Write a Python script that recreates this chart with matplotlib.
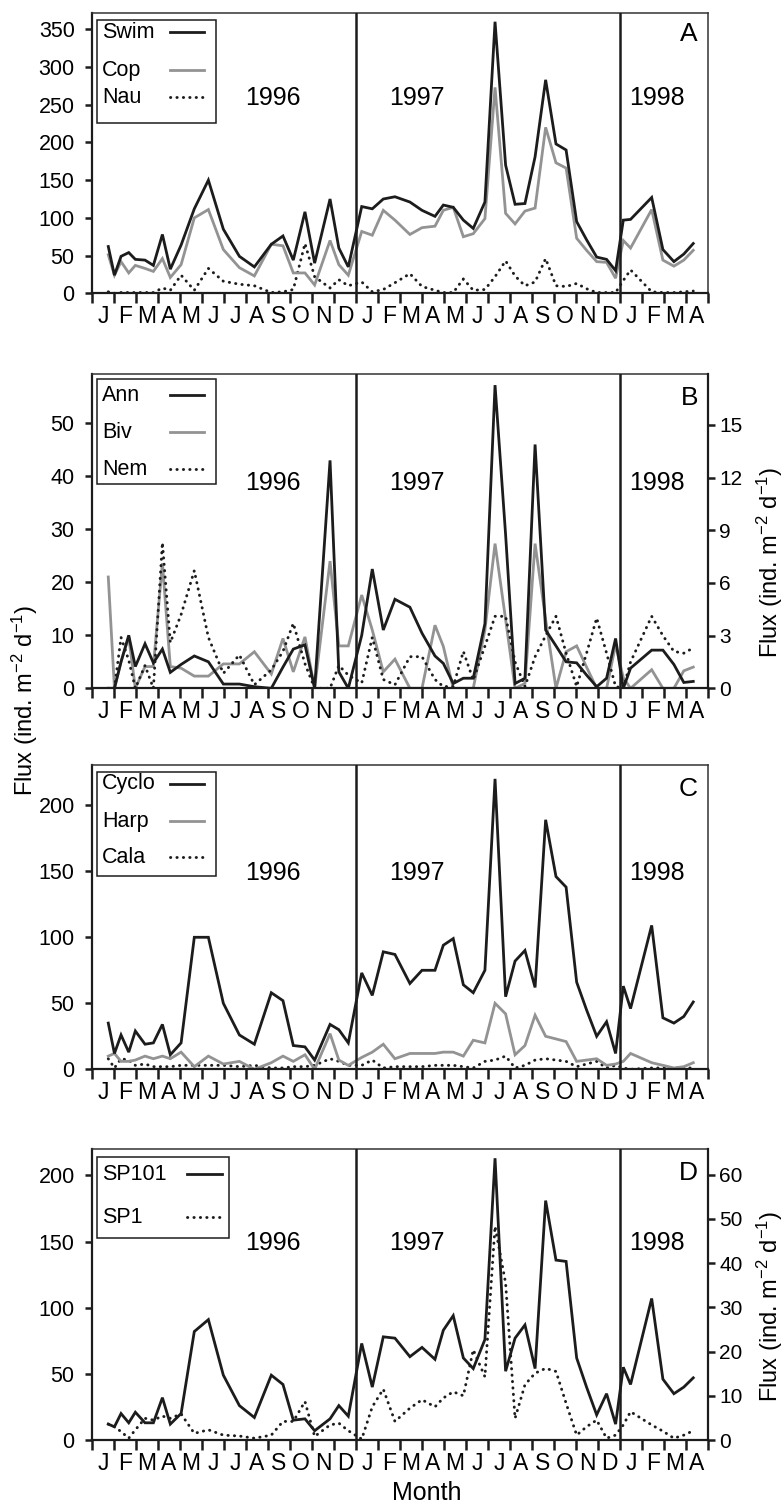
import matplotlib
matplotlib.use("Agg")
import matplotlib.pyplot as plt
from matplotlib.patches import Rectangle

plt.rcParams["font.family"] = ["Liberation Sans", "DejaVu Sans"]
plt.rcParams["mathtext.fontset"] = "custom"
plt.rcParams["mathtext.rm"] = "Liberation Sans"
plt.rcParams["mathtext.default"] = "regular"

# sampling dates, months since 1 Jan 1996
t = [0.74, 1.02, 1.32, 1.67, 1.97, 2.41, 2.79, 3.20, 3.56, 4.05,
     4.65, 5.29, 5.97, 6.70, 7.38, 8.15, 8.68, 9.15, 9.68, 10.12,
     10.82, 11.22, 11.65, 12.26, 12.74, 13.24, 13.77, 14.45, 15.00, 15.59,
     15.97, 16.42, 16.88, 17.33, 17.86, 18.32, 18.80, 19.23, 19.68, 20.14,
     20.62, 21.09, 21.55, 22.03, 22.48, 22.94, 23.39, 23.80, 24.15, 24.48,
     25.44, 25.95, 26.45, 26.90, 27.33]

# panel A
swim = [62, 24, 49, 54, 45, 44, 37, 78, 32, 64,
        112, 150, 85, 49, 35, 65, 76, 44, 108, 40,
        125, 60, 35, 115, 112, 125, 128, 121, 110, 102,
        117, 114, 97, 86, 121, 360, 170, 118, 119, 181,
        283, 198, 190, 95, 71, 48, 45, 30, 97, 98,
        127, 58, 42, 52, 66]
cop = [51, 24, 42, 27, 37, 33, 29, 46, 21, 38,
       100, 111, 58, 34, 23, 65, 63, 27, 27, 11,
       70, 38, 24, 82, 77, 110, 97, 78, 87, 89,
       110, 114, 75, 79, 99, 273, 106, 92, 109, 113,
       220, 173, 166, 73, 57, 42, 41, 20, 70, 60,
       111, 44, 36, 44, 57]
nau = [2, 0, 1, 1, 1, 1, 1, 7, 4, 24,
       4, 33, 16, 12, 10, 1, 2, 5, 66, 22,
       7, 18, 10, 15, 2, 5, 14, 26, 9, 4,
       1, 1, 19, 4, 5, 22, 43, 23, 10, 15,
       46, 10, 9, 13, 6, 1, 1, 1, 17, 31,
       2, 1, 1, 2, 3]

# panel B (nem on the right axis)
ann = [0, 0, 5, 10, 4.1, 8.4, 4.8, 7.4, 3, 4.5,
       6.1, 5.0, 0.8, 0.8, 0.3, 0, 4, 7.4, 8.2, 0,
       43, 3.1, 0, 10, 22.5, 11, 16.8, 15.3, 10.4, 6.1,
       4.7, 0.9, 1.9, 1.9, 12.2, 57.2, 29, 0.9, 1.9, 46,
       11, 8, 5.0, 4.8, 2.5, 0.3, 1.9, 9.4, 0, 3.8,
       7.2, 7.2, 4.5, 1.1, 1.3]
biv = [21, 0, 5, 9.7, 0, 4.1, 4.1, 23.6, 4.1, 3.8,
       2.3, 2.3, 4.6, 4.6, 6.9, 2.7, 9.4, 3.1, 9.7, 0,
       24, 8, 8, 17.6, 11, 3.1, 5.5, 0, 0, 11.9,
       7.9, 0, 0, 0, 11, 27.3, 13, 0, 0.9, 27.3,
       13, 0, 6.9, 8.0, 4, 0, 0, 8.2, 2, 0,
       3.5, 0, 0, 3.3, 4.0]
nem = [0, 0, 2.9, 1.6, 0, 1.3, 0, 8.3, 2.6, 4.2,
       6.7, 2.9, 0.85, 1.9, 0.2, 1.05, 2.1, 3.7, 1.4, 0,
       0, 1.3, 0.75, 0.3, 2.9, 0.5, 0.2, 1.8, 1.8, 0.5,
       0.1, 0.1, 2.1, 0.47, 2.4, 4.1, 4.1, 1.5, 0.1, 1.8,
       3.0, 4.1, 2.0, 0.1, 2.0, 4.0, 2.0, 0.1, 0, 1.5,
       4.1, 3.0, 2.1, 2.0, 2.3]

# panel C
cyclo = [35, 12, 26, 13, 29, 19, 20, 34, 11, 20,
         100, 100, 50, 26, 19, 58, 52, 18, 17, 7,
         34, 30, 20, 73, 56, 89, 87, 65, 75, 75,
         94, 99, 64, 58, 75, 220, 55, 82, 90, 62,
         189, 146, 138, 66, 45, 25, 36, 12, 63, 46,
         109, 39, 35, 40, 51]
harp = [10, 12, 6, 6, 7, 10, 8, 10, 8, 13,
        2, 10, 4, 6, 0, 5, 10, 6, 11, 0,
        27, 7, 3, 9, 13, 19, 8, 12, 12, 12,
        13, 13, 10, 22, 20, 50, 42, 11, 18, 41,
        25, 23, 21, 6, 7, 8, 3, 4, 6, 12,
        5, 3, 1, 2, 5]
cala = [8, 1, 8, 7, 3, 4, 2, 2, 2, 3,
        3, 3, 3, 2, 3, 1, 1, 2, 2, 3,
        8, 6, 3, 3, 7, 1, 2, 2, 2, 3,
        3, 3, 2, 1, 6, 7, 10, 1, 3, 7,
        8, 7, 6, 2, 4, 6, 1, 3, 1, 0,
        1, 1, 1, 1, 1]

# panel D (sp1 on the right axis)
sp101 = [12, 10, 20, 13, 21, 13, 13, 32, 12, 20,
         82, 91, 49, 26, 17, 49, 42, 15, 16, 7,
         16, 26, 18, 73, 40, 78, 77, 63, 70, 61,
         83, 94, 62, 54, 76, 213, 52, 77, 87, 54,
         181, 136, 135, 62, 40, 19, 35, 12, 55, 42,
         107, 46, 35, 40, 47]
sp1 = [3.6, 3.0, 1.9, 0.4, 2.3, 4.9, 4.5, 5.4, 4.9, 5.9,
       1.5, 2.3, 1.1, 0.9, 0.4, 1.1, 4.2, 4.2, 8.7, 0.8,
       3.4, 3.8, 2.1, 0.2, 7.5, 11.5, 4.2, 7.2, 9.1, 7.5,
       9.5, 10.9, 10.0, 20.4, 14.3, 48.3, 35.5, 4.9, 12.5, 15.1,
       16.2, 15.5, 8.3, 1.1, 3.0, 4.5, 0.4, 1.1, 3.4, 6.4,
       3.4, 2.0, 0.4, 1.1, 2.1]

month_labels = list("JFMAMJJASOND") * 2 + list("JFMA")
years = ["1996", "1997", "1998"]
year_breaks = [12, 24]
ylabel = "Flux (ind. m$^{-2}$ d$^{-1}$)"

# ---- styling ----
W, H = 783, 1505
AX_L, AX_R = 92, 708
AX_W = AX_R - AX_L
BLACK = "#1c1c1c"
GREY = "#939393"
LW = 2.0
SOLID_K = dict(color=BLACK, lw=LW, solid_joinstyle="miter")
SOLID_G = dict(color=GREY, lw=LW, solid_joinstyle="miter")
DOTS = dict(color=BLACK, lw=2.1, linestyle=(0, (0.1, 2.1)), dash_capstyle="round")
YEAR_X = [8.2, 14.76, 25.7]

fig = plt.figure(figsize=(W / 100, H / 100), dpi=100)


def make_axes(top, bot):
    return fig.add_axes([AX_L / W, 1 - bot / H, AX_W / W, (bot - top) / H])


def style_axes(ax, ylim, yticks):
    ax.set_xlim(0, 28)
    ax.set_ylim(*ylim)
    ax.set_yticks(yticks)
    ax.set_xticks(range(29))
    ax.set_xticklabels([])
    ax.set_xticks([m + 0.5 for m in range(28)], minor=True)
    ax.set_xticklabels(month_labels, minor=True)
    ax.tick_params(axis="x", which="major", direction="out", length=7.5, width=1.8, color=BLACK)
    ax.tick_params(axis="x", which="minor", length=0, pad=8.5, labelsize=16.5)
    ax.tick_params(axis="y", direction="out", length=5, width=1.8, pad=7.5, labelsize=15.5, color=BLACK)
    for side in ("left", "bottom"):
        ax.spines[side].set_linewidth(1.6)
        ax.spines[side].set_color(BLACK)
    for side in ("top", "right"):
        ax.spines[side].set_linewidth(1.1)
        ax.spines[side].set_color("#333333")
    for xb in year_breaks:
        ax.axvline(xb, color=BLACK, lw=1.8, zorder=3)


def add_texts(ax, h, letter, year_dy, letter_dy):
    for x, yr in zip(YEAR_X, years):
        ax.text(x, 1 - year_dy / h, yr, transform=ax.get_xaxis_transform(),
                ha="center", va="center", fontsize=18)
    ax.text(1 - 10 / AX_W, 1 - letter_dy / h, letter, transform=ax.transAxes,
            ha="right", va="center", fontsize=19)


def draw_key(ax, h, entries, box, rows, hx):
    x0, y0, x1, y1 = box
    ax.add_patch(Rectangle((x0 / AX_W, 1 - y1 / h), (x1 - x0) / AX_W, (y1 - y0) / h,
                           transform=ax.transAxes, facecolor="white",
                           edgecolor=BLACK, lw=1.1, zorder=6))
    for (label, style), y in zip(entries, rows):
        yy = 1 - y / h
        ax.text(10 / AX_W, yy, label, transform=ax.transAxes, ha="left",
                va="center", fontsize=15.5, zorder=7)
        ax.plot([hx[0] / AX_W, hx[1] / AX_W], [yy, yy], transform=ax.transAxes,
                zorder=7, clip_on=False, **style)


def add_right(ax, ylim, yticks):
    ax2 = ax.twinx()
    ax2.set_ylim(*ylim)
    ax2.set_yticks(yticks)
    ax2.tick_params(axis="y", direction="out", length=5, width=1.8, pad=3,
                    labelsize=15, color=BLACK)
    ax2.spines["right"].set_linewidth(1.6)
    ax2.spines["right"].set_color(BLACK)
    for side in ("left", "top", "bottom"):
        ax2.spines[side].set_visible(False)
    return ax2


# ---- A ----
top, bot = 12.7, 293.3
axA = make_axes(top, bot)
style_axes(axA, (0, 372), range(0, 351, 50))
axA.plot(t, nau, **DOTS)
axA.plot(t, cop, **SOLID_G)
axA.plot(t, swim, **SOLID_K)
add_texts(axA, bot - top, "A", 85.3, 21.3)
draw_key(axA, bot - top,
         [("Swim", SOLID_K), ("Cop", SOLID_G), ("Nau", DOTS)],
         (5, 6.8, 124, 110.3), (19.6, 57.5, 84.6), (78, 112))

# ---- B ----
top, bot = 374, 688.3
axB = make_axes(top, bot)
style_axes(axB, (0, 59.3), range(0, 51, 10))
axB2 = add_right(axB, (0, 17.9), range(0, 16, 3))
axB2.plot(t, nem, **DOTS)
axB.plot(t, biv, **SOLID_G)
axB.plot(t, ann, **SOLID_K)
add_texts(axB, bot - top, "B", 109.3, 23.5)
draw_key(axB2, bot - top,
         [("Ann", SOLID_K), ("Biv", SOLID_G), ("Nem", DOTS)],
         (5, 5.3, 124, 110), (21, 58.3, 95), (78, 112))

# ---- C ----
top, bot = 765, 1069.3
axC = make_axes(top, bot)
style_axes(axC, (0, 230.5), range(0, 201, 50))
axC.plot(t, cala, **DOTS)
axC.plot(t, harp, **SOLID_G)
axC.plot(t, cyclo, **SOLID_K)
add_texts(axC, bot - top, "C", 108.3, 24.5)
draw_key(axC, bot - top,
         [("Cyclo", SOLID_K), ("Harp", SOLID_G), ("Cala", DOTS)],
         (5, 7.3, 124, 111), (19, 56, 92.3), (78, 112))

# ---- D ----
top, bot = 1149, 1440
axD = make_axes(top, bot)
style_axes(axD, (0, 220), range(0, 201, 50))
axD2 = add_right(axD, (0, 65.8), range(0, 61, 10))
axD2.plot(t, sp1, **DOTS)
axD.plot(t, sp101, **SOLID_K)
add_texts(axD, bot - top, "D", 94.3, 24)
draw_key(axD2, bot - top,
         [("SP101", SOLID_K), ("SP1", DOTS)],
         (5, 7.7, 137, 89.3), (25.3, 68.3), (95, 130))

# ---- shared labels ----
fig.text(25 / W, 1 - 700 / H, ylabel, rotation=90, ha="center", va="center", fontsize=17)
fig.text(770 / W, 1 - 562 / H, ylabel, rotation=90, ha="center", va="center", fontsize=17)
fig.text(770 / W, 1 - 1306 / H, ylabel, rotation=90, ha="center", va="center", fontsize=17)
fig.text(427 / W, 1 - 1493 / H, "Month", ha="center", va="center", fontsize=18)

fig.savefig("out.png", dpi=100)
